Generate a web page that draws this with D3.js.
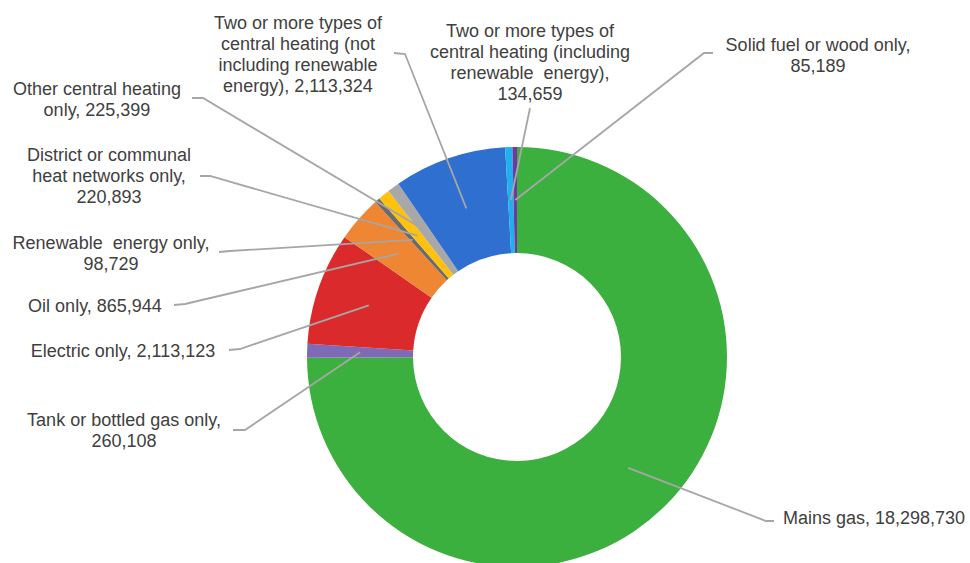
<!DOCTYPE html>
<html>
<head>
<meta charset="utf-8">
<script src="https://cdn.jsdelivr.net/npm/d3@7/dist/d3.min.js"></script>
<style>
  html, body { margin: 0; padding: 0; background: #fff; }
  svg { display: block; }
  text { white-space: pre; }
</style>
</head>
<body>
<svg id="chart" width="970" height="563"></svg>
<script>
// ---- data ----
const categories = [
  "Mains gas",
  "Tank or bottled gas only",
  "Electric only",
  "Oil only",
  "Renewable energy only",
  "District or communal heat networks only",
  "Other central heating only",
  "Two or more types of central heating (not including renewable energy)",
  "Two or more types of central heating (including renewable energy)",
  "Solid fuel or wood only"
];
const values = [18298730, 260108, 2113123, 865944, 98729, 220893, 225399, 2113324, 134659, 85189];
// label line breaks (text), "{v}" = formatted value
const labelLines = [
  ["Mains gas, {v}"],
  ["Tank or bottled gas only,", "{v}"],
  ["Electric only, {v}"],
  ["Oil only, {v}"],
  ["Renewable  energy only,", "{v}"],
  ["District or communal", "heat networks only,", "{v}"],
  ["Other central heating", "only, {v}"],
  ["Two or more types of", "central heating (not", "including renewable", "energy), {v}"],
  ["Two or more types of", "central heating (including", "renewable  energy),", "{v}"],
  ["Solid fuel or wood only,", "{v}"]
];
const colors = ["#3cb03e", "#7f6ab8", "#db2a2b", "#ef8634", "#6b6b6b", "#fec10e", "#a8a8a8", "#2e6fd0", "#1fb0f0", "#6f3aa0"];

// ---- layout ----
const cx = 517, cy = 357, R = 210, r = 104;
const lineH = 21;
const labelLayout = [
  {x: 783, y: 518, anchor: "start",  start: [774, 521], elbow: [766, 521]},
  {x: 124, y: 420, anchor: "middle", start: [233, 430], elbow: [245, 430]},
  {x: 123, y: 351, anchor: "middle", start: [229, 350], elbow: [240, 349]},
  {x: 95,  y: 306, anchor: "middle", start: [174, 305], elbow: [185, 304]},
  {x: 111, y: 243, anchor: "middle", start: [219, 252], elbow: [230, 251]},
  {x: 109, y: 155, anchor: "middle", start: [200, 176], elbow: [210, 176]},
  {x: 97,  y: 89,  anchor: "middle", start: [192, 98],  elbow: [203, 98]},
  {x: 298, y: 23,  anchor: "middle", start: [394, 53],  elbow: [405, 54]},
  {x: 530, y: 31,  anchor: "middle", start: [530, 108], elbow: [530, 108]},
  {x: 818, y: 45,  anchor: "middle", start: [713, 53],  elbow: [704, 53]}
];

const fmt = d3.format(",");
const svg = d3.select("#chart");

const data = categories.map((c, i) => ({name: c, value: values[i], i}));
const pie = d3.pie().value(d => d.value).sort(null);
const arcs = pie(data);
const arc = d3.arc().innerRadius(r).outerRadius(R);

const g = svg.append("g").attr("transform", `translate(${cx},${cy})`);
g.selectAll("path.slice")
  .data(arcs)
  .join("path")
  .attr("class", "slice")
  .attr("d", arc)
  .attr("fill", (d, i) => colors[i]);

// leader lines
const lines = svg.append("g");
arcs.forEach((a, i) => {
  const c = arc.centroid(a);
  const L = labelLayout[i];
  const pts = [L.start, L.elbow, [cx + c[0], cy + c[1]]];
  lines.append("path")
    .attr("d", d3.line()(pts))
    .attr("fill", "none")
    .attr("stroke", "#a6a6a6")
    .attr("stroke-width", 1.8);
});

// labels
const labels = svg.append("g")
  .attr("font-family", "'Liberation Sans', Arial, sans-serif")
  .attr("font-size", 18)
  .attr("fill", "#404040");
data.forEach((d, i) => {
  const L = labelLayout[i];
  const t = labels.append("text")
    .attr("text-anchor", L.anchor)
    .attr("dominant-baseline", "central");
  labelLines[i].forEach((ln, k) => {
    t.append("tspan")
      .attr("x", L.x)
      .attr("y", L.y + k * lineH)
      .text(ln.replace("{v}", fmt(d.value)));
  });
});
</script>
</body>
</html>
